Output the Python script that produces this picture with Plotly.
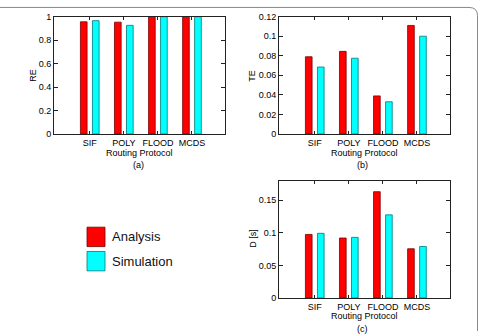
import plotly.graph_objects as go

categories = ["SIF", "POLY", "FLOOD", "MCDS"]
cat_pos = [1, 2, 3, 4]

re_analysis = [0.956, 0.953, 1.0, 1.0]
re_simulation = [0.966, 0.926, 1.0, 1.0]

te_analysis = [0.079, 0.0845, 0.039, 0.111]
te_simulation = [0.0685, 0.0775, 0.033, 0.100]

d_analysis = [0.0975, 0.092, 0.163, 0.0755]
d_simulation = [0.0992, 0.093, 0.1275, 0.079]

series_names = ["Analysis", "Simulation"]
series_colors = ["#ff0000", "#00ffff"]
edge_colors = ["#7a0000", "#007a7a"]

W, H = 480, 336
FONT = "Liberation Sans, Arial, sans-serif"

fig = go.Figure()

panels = [
    ("x", "y", re_analysis, re_simulation),
    ("x2", "y2", te_analysis, te_simulation),
    ("x3", "y3", d_analysis, d_simulation),
]

for xa, ya, a, s in panels:
    for i, vals in enumerate([a, s]):
        fig.add_trace(go.Bar(
            x=cat_pos, y=vals, name=series_names[i],
            marker=dict(color=series_colors[i], line=dict(color=edge_colors[i], width=0.8)),
            xaxis=xa, yaxis=ya, showlegend=False,
        ))

def px_x(p):
    return p / W

def px_y(p):
    return 1 - p / H

axis_common = dict(showline=True, linecolor="#222", linewidth=1, mirror="ticks",
                   ticks="inside", ticklen=4, tickcolor="#222", showgrid=False,
                   zeroline=False, tickfont=dict(size=9, color="black", family=FONT))

xcommon = dict(axis_common, range=[-0.05, 4.97], tickvals=cat_pos, ticktext=categories,
               ticklen=3)

fig.update_layout(
    width=W, height=H,
    margin=dict(l=0, r=0, t=0, b=0),
    paper_bgcolor="white", plot_bgcolor="white",
    barmode="group", bargap=0.294, bargroupgap=0.445,
    font=dict(family=FONT, size=9, color="black"),
    xaxis=dict(xcommon, domain=[px_x(54), px_x(225)], anchor="y"),
    yaxis=dict(axis_common, domain=[px_y(133), px_y(12)], range=[0, 1],
               tickvals=[0, 0.2, 0.4, 0.6, 0.8, 1], ticktext=["0", "0.2", "0.4", "0.6", "0.8", "1"],
               anchor="x"),
    xaxis2=dict(xcommon, domain=[px_x(279), px_x(450)], anchor="y2"),
    yaxis2=dict(axis_common, domain=[px_y(133), px_y(12)], range=[0, 0.12],
                tickvals=[0, 0.02, 0.04, 0.06, 0.08, 0.1, 0.12],
                ticktext=["0", "0.02", "0.04", "0.06", "0.08", "0.1", "0.12"], anchor="x2"),
    xaxis3=dict(xcommon, domain=[px_x(279), px_x(450)], anchor="y3"),
    yaxis3=dict(axis_common, domain=[px_y(302), px_y(181)], range=[0, 0.18],
                tickvals=[0, 0.05, 0.1, 0.15], ticktext=["0", "0.05", "0.1", "0.15"], anchor="x3"),
)

def ann(text, x, y, size=9, angle=0):
    fig.add_annotation(text=text, x=px_x(x), y=px_y(y), xref="paper", yref="paper",
                       showarrow=False, textangle=angle, xanchor="center", yanchor="middle",
                       font=dict(size=size, color="black", family=FONT))

# axis titles and panel labels
ann("Routing Protocol", 139, 153)
ann("(a)", 138, 165)
ann("RE", 33, 73, angle=-90)
ann("Routing Protocol", 364, 153)
ann("(b)", 362, 165)
ann("TE", 252, 73, angle=-90)
ann("Routing Protocol", 364, 321)
ann("(c)", 362, 334)
ann("D [s]", 253, 241, angle=-90)

# legend
legend_y = [239, 264]
for i, name in enumerate(series_names):
    cy = legend_y[i]
    fig.add_shape(type="rect", xref="paper", yref="paper",
                  x0=px_x(87), x1=px_x(105), y0=px_y(cy + 10), y1=px_y(cy - 10),
                  fillcolor=series_colors[i], line=dict(color=edge_colors[i], width=0.8))
    fig.add_annotation(text=name, x=px_x(110), y=px_y(cy), xref="paper", yref="paper",
                       showarrow=False, xanchor="left", yanchor="middle",
                       font=dict(size=13, color="#111", family=FONT))

# outer rounded border
fig.add_shape(type="path", xref="paper", yref="paper",
              path=f"M 0,{px_y(2.5)} L {px_x(469)},{px_y(2.5)} Q {px_x(477.5)},{px_y(2.5)} {px_x(477.5)},{px_y(11)} L {px_x(477.5)},{px_y(336)}",
              line=dict(color="#888", width=1))

fig.write_html("out.html")
